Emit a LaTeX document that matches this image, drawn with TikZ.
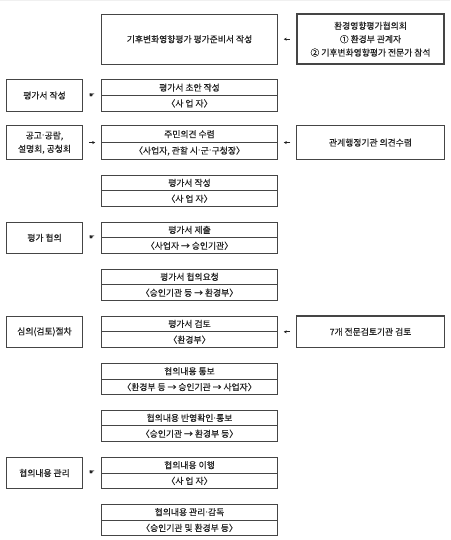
\documentclass[tikz,border=0pt]{standalone}
\usepackage{fontspec}
\setmainfont{Noto Sans CJK KR}[FakeBold=0.4]
\newfontfamily\symfont{DejaVu Sans}
\newcommand{\mdot}{{\symfont ·}}
\usetikzlibrary{arrows.meta,calc}
\definecolor{edge}{HTML}{454545}
\definecolor{ink}{HTML}{222222}
\tikzset{
  boxbase/.style={draw=edge, line width=0.9pt, fill=white, inner sep=0pt, text=ink, font=\fontsize{8.8}{13.4}\selectfont, align=center},
  midbox/.style={boxbase, minimum width=175.6pt, minimum height=31.6pt},
  leftbox/.style={boxbase, minimum width=75.6pt, minimum height=31.6pt},
  rightbox/.style={boxbase, minimum width=147.6pt, minimum height=33.3pt},
  txt/.style={inner sep=0pt, text=ink, font=\fontsize{8.8}{13.4}\selectfont, align=center},
  hand/.style={inner sep=0pt, text=ink, font=\symfont\fontsize{6.5}{6.5}\selectfont},
  sarrow/.style={draw=ink, line width=0.7pt, -{Stealth[length=3pt,width=3pt]}, shorten >=6pt, shorten <=6pt},
}
\begin{document}
\begin{tikzpicture}[x=1pt,y=-1pt]
\useasboundingbox (0,0) rectangle (450,540);
\fill[black!6] (0,0) rectangle (450,1.2);

% Row 1
\node[midbox, minimum height=49.7pt] (m1) at (189.5,39.2) {기후변화영향평가 평가준비서 작성};
\node[rightbox, minimum height=49.7pt, line width=1.9pt] (r1) at (370.5,39.2) {환경영향평가협의회\\① 환경부 관계자\\② 기후변화영향평가 전문가 참석};
\draw[sarrow] (r1.west) -- (m1.east);

% Row 2
\node[leftbox] (l2) at (44.5,95.5) {평가서 작성};
\node[midbox] (m2) at (189.5,95.5) {};
\draw[draw=edge, line width=0.9pt] (m2.west) -- (m2.east);
\node[txt] (m2a) at (189.5,87.6) {평가서 초안 작성};
\node[txt] (m2b) at (189.5,103.4) {〈사 업 자〉};
\node[hand] (h2) at ($(l2.east)!0.5!(m2.west)$) {☛};

% Row 3
\node[leftbox, minimum height=33.3pt] (l3) at (44.5,142.6) {공고\mdot 공람,\\설명회, 공청회};
\node[midbox, minimum height=33.3pt] (m3) at (189.5,142.6) {};
\draw[draw=edge, line width=0.9pt] (m3.west) -- (m3.east);
\node[txt] (m3a) at (189.5,134.2) {주민의견 수렴};
\node[txt] (m3b) at (189.5,151.0) {〈사업자, 관할 시\mdot 군\mdot 구청장〉};
\node[rightbox] (r3) at (370.5,142.6) {관계행정기관 의견수렴};
\draw[sarrow] (l3.east) -- (m3.west);
\draw[sarrow] (r3.west) -- (m3.east);

% Row 4
\node[midbox] (m4) at (189.5,190.8) {};
\draw[draw=edge, line width=0.9pt] (m4.west) -- (m4.east);
\node[txt] (m4a) at (189.5,182.9) {평가서 작성};
\node[txt] (m4b) at (189.5,198.7) {〈사 업 자〉};

% Row 5
\node[leftbox] (l5) at (44.5,237.8) {평가 협의};
\node[midbox] (m5) at (189.5,237.8) {};
\draw[draw=edge, line width=0.9pt] (m5.west) -- (m5.east);
\node[txt] (m5a) at (189.5,229.9) {평가서 제출};
\node[txt] (m5b) at (189.5,245.7) {〈사업자 → 승인기관〉};
\node[hand] (h5) at ($(l5.east)!0.5!(m5.west)$) {☛};

% Row 6
\node[midbox] (m6) at (189.5,284.8) {};
\draw[draw=edge, line width=0.9pt] (m6.west) -- (m6.east);
\node[txt] (m6a) at (189.5,276.9) {평가서 협의요청};
\node[txt] (m6b) at (189.5,292.7) {〈승인기관 등 → 환경부〉};

% Row 7
\node[leftbox] (l7) at (44.5,331.8) {심의(검토)절차};
\node[midbox] (m7) at (189.5,331.8) {};
\draw[draw=edge, line width=0.9pt] (m7.west) -- (m7.east);
\node[txt] (m7a) at (189.5,323.9) {평가서 검토};
\node[txt] (m7b) at (189.5,339.7) {〈환경부〉};
\node[rightbox, minimum height=31.6pt, line width=1.3pt] (r7) at (370.5,331.8) {7개 전문검토기관 검토};
\draw[sarrow] (r7.west) -- (m7.east);

% Row 8
\node[midbox] (m8) at (189.5,379.1) {};
\draw[draw=edge, line width=0.9pt] (m8.west) -- (m8.east);
\node[txt] (m8a) at (189.5,371.2) {협의내용 통보};
\node[txt] (m8b) at (189.5,387.0) {〈환경부 등 → 승인기관 → 사업자〉};

% Row 9
\node[midbox] (m9) at (189.5,425.8) {};
\draw[draw=edge, line width=0.9pt] (m9.west) -- (m9.east);
\node[txt] (m9a) at (189.5,417.9) {협의내용 반영확인\mdot 통보};
\node[txt] (m9b) at (189.5,433.7) {〈승인기관 → 환경부 등〉};

% Row 10
\node[leftbox] (l10) at (44.5,473.0) {협의내용 관리};
\node[midbox] (m10) at (189.5,473.0) {};
\draw[draw=edge, line width=0.9pt] (m10.west) -- (m10.east);
\node[txt] (m10a) at (189.5,465.1) {협의내용 이행};
\node[txt] (m10b) at (189.5,480.9) {〈사 업 자〉};
\node[hand] (h10) at ($(l10.east)!0.5!(m10.west)$) {☛};

% Row 11
\node[midbox] (m11) at (189.5,520.0) {};
\draw[draw=edge, line width=0.9pt] (m11.west) -- (m11.east);
\node[txt] (m11a) at (189.5,512.1) {협의내용 관리\mdot 감독};
\node[txt] (m11b) at (189.5,527.9) {〈승인기관 및 환경부 등〉};
\end{tikzpicture}
\end{document}
